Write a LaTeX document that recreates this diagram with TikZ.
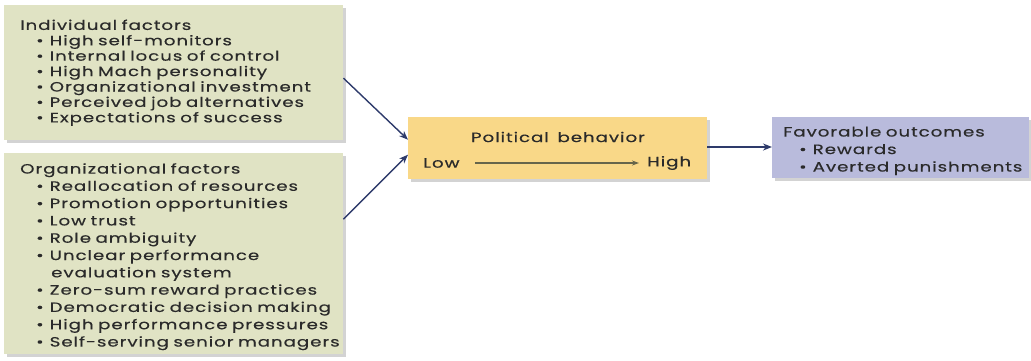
\documentclass[tikz,border=0pt]{standalone}
\usepackage{fontspec}
\setmainfont{Poppins}[LetterSpace=7, FakeStretch=1.35, WordSpace=1.5, FakeBold=0.4]
\usetikzlibrary{arrows.meta,shadows,calc}

\definecolor{factorgreen}{HTML}{E0E3C4}
\definecolor{behavioryellow}{HTML}{F9D888}
\definecolor{outcomeblue}{HTML}{B9BBDC}
\definecolor{linknavy}{HTML}{2E3B6B}
\definecolor{scaleolive}{HTML}{66654A}
\definecolor{inkgray}{HTML}{2A2A2A}

\newcommand{\bul}[1]{\mbox{\hspace*{16pt}\textbullet\hspace{6pt}#1}}

\begin{document}
\begin{tikzpicture}[x=1pt,y=-1pt]
        \tikzset{
            factorbox/.style={anchor=north west, fill=factorgreen,
                inner xsep=16pt, text width=307pt, align=left,
                minimum width=339pt, text=inkgray,
                font=\fontsize{13.5}{15.4}\selectfont,
                drop shadow={shadow xshift=3pt, shadow yshift=-3pt,
                    opacity=.35}},
            link/.style={draw=linknavy, line width=1.4pt,
                -{Stealth[length=9pt,width=7pt]}}
        }
        \useasboundingbox (0,0) rectangle (1031,360);

        \node[factorbox, minimum height=135pt] (ind) at (4,5)
            {Individual factors\\
             \bul{High self-monitors}\\
             \bul{Internal locus of control}\\
             \bul{High Mach personality}\\
             \bul{Organizational investment}\\
             \bul{Perceived job alternatives}\\
             \bul{Expectations of success}};

        \node[factorbox, minimum height=197pt,
            font=\fontsize{13.5}{17.3}\selectfont] (org) at (4,153)
            {\rule{0pt}{17pt}Organizational factors\\
             \bul{Reallocation of resources}\\
             \bul{Promotion opportunities}\\
             \bul{Low trust}\\
             \bul{Role ambiguity}\\
             \bul{Unclear performance}\\
             \mbox{\hspace*{31pt}evaluation system}\\
             \bul{Zero-sum reward practices}\\
             \bul{Democratic decision making}\\
             \bul{High performance pressures}\\
             \bul{Self-serving senior managers}};

        \node[anchor=north west, fill=behavioryellow, minimum width=299pt,
            minimum height=62pt,
            drop shadow={shadow xshift=3pt, shadow yshift=-3pt, opacity=.35}]
            (pol) at (408,117) {};
        \node[text=inkgray, font=\fontsize{13.5}{15}\selectfont] (poltitle)
            at (558,137) {Political behavior};
        \node[text=inkgray, font=\fontsize{13.5}{15}\selectfont, anchor=west,
            inner sep=0pt] (low) at (423,163) {Low};
        \node[text=inkgray, font=\fontsize{13.5}{15}\selectfont, anchor=west,
            inner sep=0pt] (high) at (647,163) {High};
        \draw[draw=scaleolive, line width=1.3pt,
            -{Stealth[length=7pt,width=5pt]}]
            ([xshift=15pt]low.east) -- ([xshift=-8pt]high.west);

        \node[anchor=north west, fill=outcomeblue, minimum width=257pt,
            minimum height=61pt, inner xsep=11pt, text width=235pt,
            align=left, text=inkgray, font=\fontsize{13.5}{17.5}\selectfont,
            drop shadow={shadow xshift=3pt, shadow yshift=-3pt, opacity=.35}]
            (out) at (772,117)
            {\rule{0pt}{16pt}Favorable outcomes\\
             \bul{Rewards}\\
             \bul{Averted punishments}};

        \draw[link] ($(ind.north east)!0.54!(ind.south east)$)
            -- ([yshift=8.5pt]pol.west);
        \draw[link] ($(org.north east)!0.33!(org.south east)$)
            -- ([yshift=-6.5pt]pol.west);
        \draw[link] (pol.east |- 0,147) -- (out.west |- 0,147);

    \end{tikzpicture}
\end{document}
